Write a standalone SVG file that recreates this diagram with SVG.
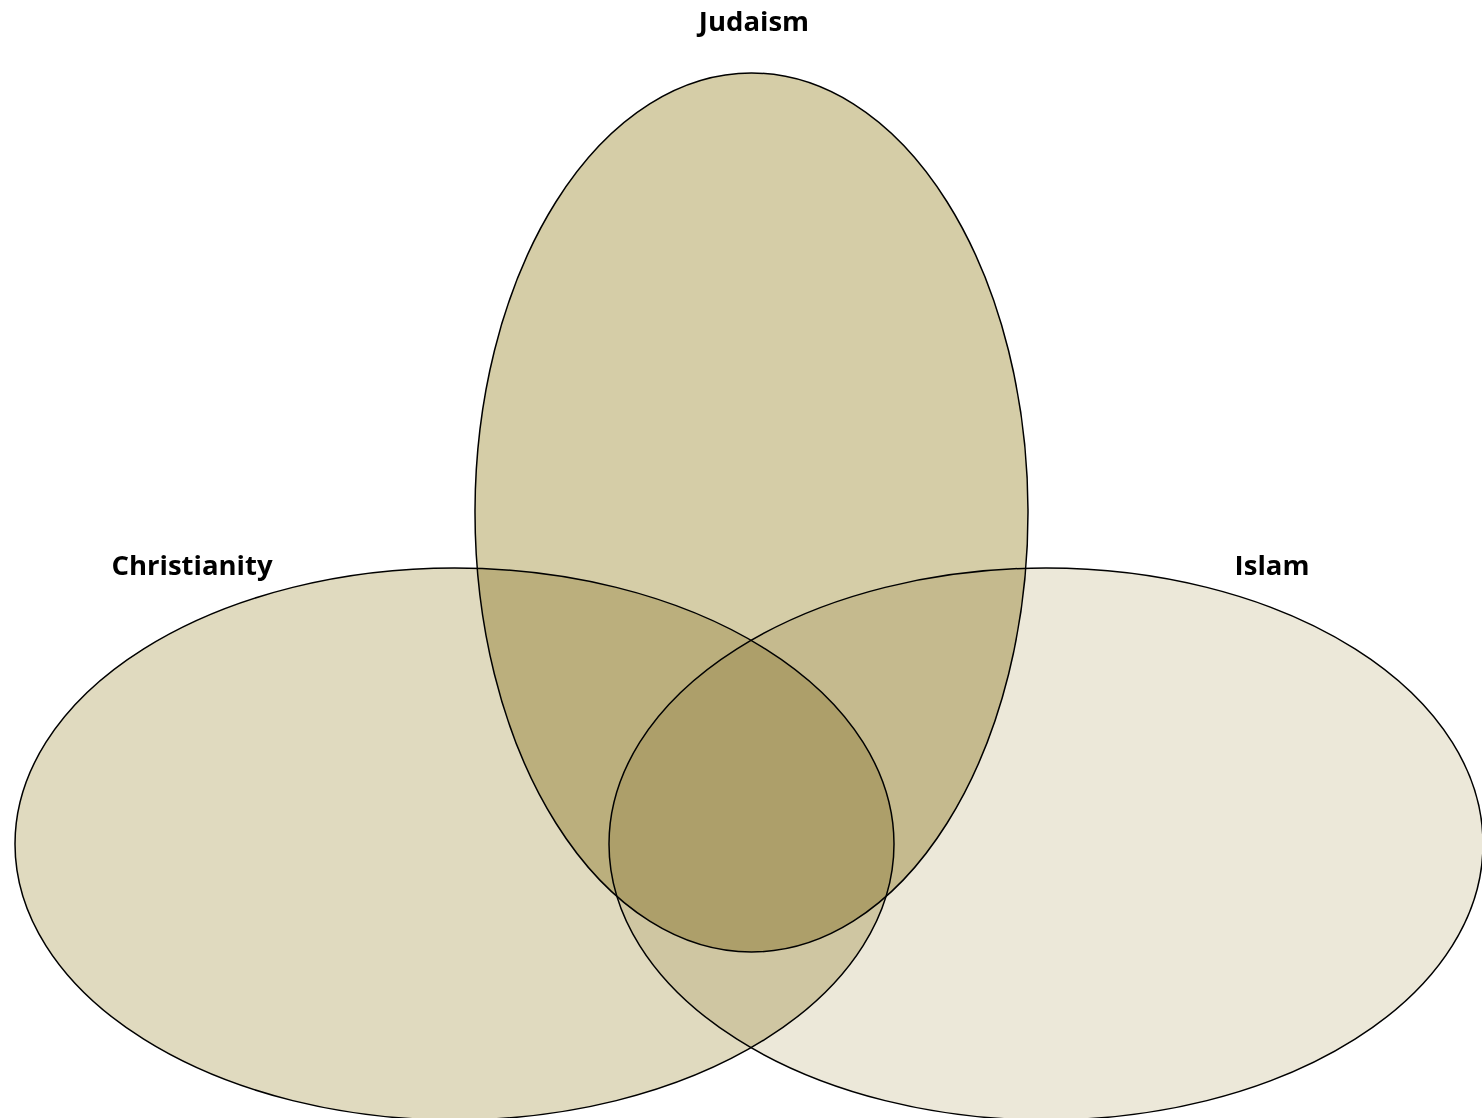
<svg xmlns="http://www.w3.org/2000/svg" width="1482" height="1118" viewBox="0 0 1482 1118">
<style>
.set{stroke:#000;stroke-width:1.5;mix-blend-mode:multiply}
.lbl{font-family:"Open Sans","Noto Sans","Liberation Sans",sans-serif;font-weight:bold;font-size:27.5px;fill:#000;text-anchor:middle}
</style>
<rect width="1482" height="1118" fill="#fff"/>
<g id="christianity"><ellipse class="set" cx="454.5" cy="844" rx="439.5" ry="276" fill="#e0dabf"/></g>
<g id="islam"><ellipse class="set" cx="1046" cy="844" rx="437" ry="276" fill="#ece8d9"/></g>
<g id="judaism"><ellipse class="set" cx="751.5" cy="512.5" rx="276.5" ry="439.5" fill="#d5cda7"/></g>
<g id="labels">
<text class="lbl" x="754" y="31">Judaism</text>
<text class="lbl" x="192" y="575">Christianity</text>
<text class="lbl" x="1272" y="575">Islam</text>
</g>
<g id="connectors"/>
</svg>
